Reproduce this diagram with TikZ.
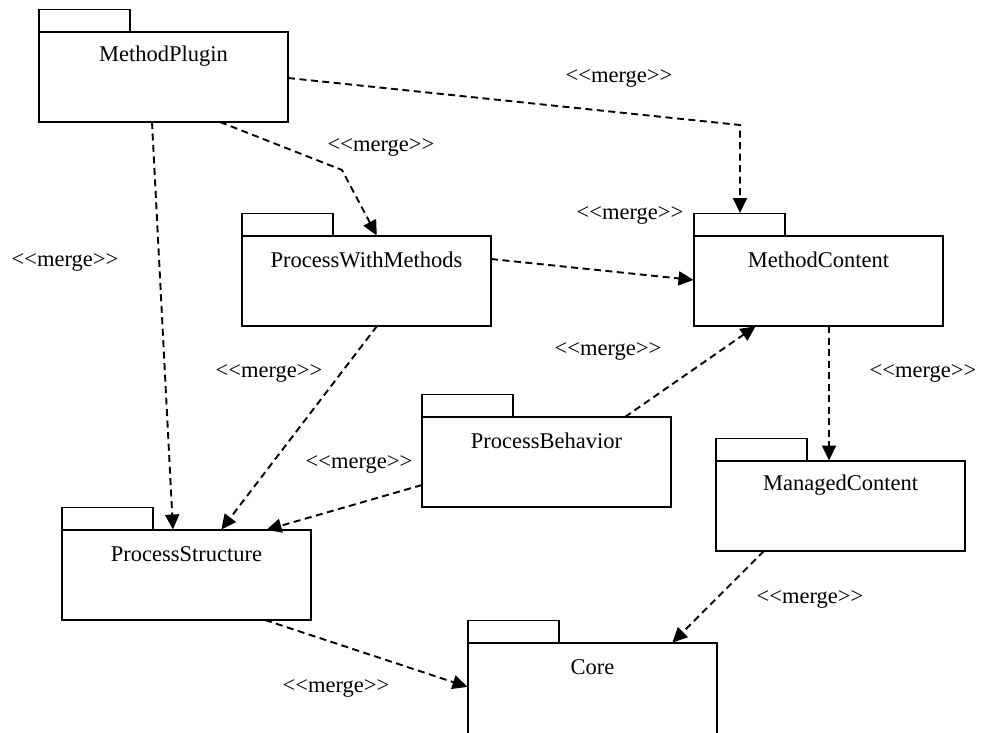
\documentclass[tikz,border=0pt]{standalone}
\usepackage{fontspec}
\setmainfont{Liberation Serif}
\usetikzlibrary{arrows.meta,calc}

\tikzset{
  pkgbody/.style={draw, line width=1.9pt, inner sep=0pt, outer sep=0pt,
    minimum width=249pt, minimum height=90pt, anchor=north west},
  pkgtab/.style={draw, line width=1.9pt, inner sep=0pt, outer sep=0pt,
    minimum width=91pt, minimum height=22.5pt, anchor=south west},
  pkgname/.style={font=\fontsize{22.5}{26}\selectfont, inner sep=0pt},
  mergelbl/.style={font=\fontsize{22.5}{26}\selectfont, inner sep=0pt},
  merge/.style={line width=1.9pt, dash pattern=on 7pt off 4.5pt,
    -{Triangle[length=15pt,width=14pt]}, shorten >=0.5pt},
}

% a UML package: tab on top of the body, name near the top of the body
\newcommand{\umlpackage}[4]{%
  \node[pkgbody] (#1) at (#2) {};
  \node[pkgtab] (#1tab) at (#1.north west) {};
  \node[pkgname] (#1name) at ($(#1.north)+(0,24)$) {#3#4};
}

\begin{document}
\begin{tikzpicture}[x=1pt,y=-1pt]
\useasboundingbox (0,0) rectangle (982,732);
\clip (0,0) rectangle (982,732);

% packages
\umlpackage{mp}{39,32}{MethodPlugin}{}
\umlpackage{pwm}{242,236}{ProcessWithMethods}{}
\umlpackage{mc}{694,236}{MethodContent}{}
\umlpackage{pb}{422,417}{ProcessBehavior}{}
\umlpackage{mgc}{716,461}{ManagedContent}{}
\umlpackage{ps}{62,530}{ProcessStructure}{}
\node[pkgbody, minimum height=110pt] (core) at (468,643) {};
\node[pkgtab] (coretab) at (core.north west) {};
\node[pkgname] (corename) at ($(core.north)+(0,24)$) {Core};

% bend points
\coordinate (b1) at (740,125);
\coordinate (b2) at (342,170);

% merge dependencies
\draw[merge] ($(mp.north west)+(249,46)$) -- (b1) -- ($(mctab.north west)+(46,0)$);
\draw[merge] ($(mp.south west)+(181,0)$) -- (b2) -- ($(pwm.north west)+(135,0)$);
\draw[merge] ($(mp.south west)+(113,0)$) -- ($(ps.north west)+(111,0)$);
\draw[merge] ($(pwm.north east)+(0,23)$) -- ($(mc.north west)+(0,44)$);
\draw[merge] ($(pwm.south west)+(135,0)$) -- ($(ps.north west)+(159,0)$);
\draw[merge] ($(pb.north west)+(203,0)$) -- ($(mc.south west)+(62,0)$);
\draw[merge] ($(pb.north west)+(0,68)$) -- ($(ps.north west)+(204,0)$);
\draw[merge] ($(mc.south west)+(135,0)$) -- ($(mgc.north west)+(113,0)$);
\draw[merge] ($(mgc.south west)+(48,0)$) -- ($(core.north west)+(204,0)$);
\draw[merge] ($(ps.south west)+(203,0)$) -- ($(core.north west)+(0,44)$);

% stereotype labels
\node[mergelbl] (l1) at (619,78) {<{}<merge>{}>};
\node[mergelbl] (l2) at (381,147) {<{}<merge>{}>};
\node[mergelbl] (l3) at (65,262) {<{}<merge>{}>};
\node[mergelbl] (l4) at (630,215) {<{}<merge>{}>};
\node[mergelbl] (l5) at (269,373) {<{}<merge>{}>};
\node[mergelbl] (l6) at (608,351) {<{}<merge>{}>};
\node[mergelbl] (l7) at (359,464) {<{}<merge>{}>};
\node[mergelbl] (l8) at (923,373) {<{}<merge>{}>};
\node[mergelbl] (l9) at (810,599) {<{}<merge>{}>};
\node[mergelbl] (l10) at (336,688) {<{}<merge>{}>};
\end{tikzpicture}
\end{document}
